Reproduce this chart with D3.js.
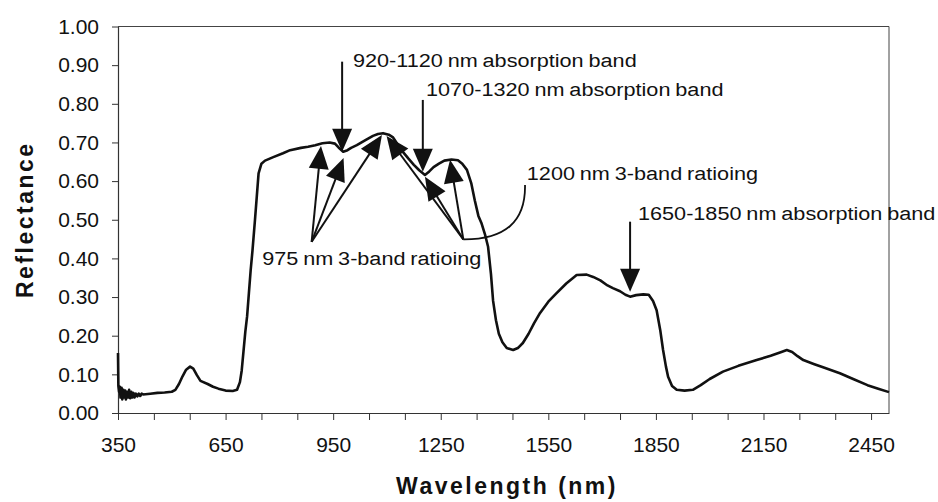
<!DOCTYPE html>
<html>
<head>
<meta charset="utf-8">
<script src="https://cdn.jsdelivr.net/npm/d3@7"></script>
<style>
  body { margin: 0; background: #fff; }
  svg { display: block; }
</style>
</head>
<body>
<script>
// spectrum (nm, reflectance)
const wavelength = [
  350, 351, 353, 355, 357, 360, 362, 365, 367, 370, 372, 375, 378, 381, 384, 387, 390, 393, 396, 400,
  404, 408, 412, 416, 420, 440, 460, 480, 500, 510, 520, 530, 540, 551, 560, 570, 580, 600, 615, 630,
  650, 670, 682, 690, 695, 700, 705, 710, 715, 720, 725, 732, 737, 742, 750, 760, 783, 810, 830, 860,
  880, 900, 920, 940, 955, 965, 978, 990, 1000, 1016, 1040, 1061, 1075, 1089, 1105, 1117, 1130, 1145, 1160, 1175,
  1190, 1206, 1218, 1230, 1245, 1260, 1280, 1298, 1310, 1323, 1335, 1345, 1355, 1364, 1374, 1382, 1390, 1396, 1404, 1412,
  1422, 1434, 1452, 1465, 1479, 1495, 1510, 1527, 1550, 1573, 1600, 1629, 1657, 1675, 1695, 1715, 1730, 1750, 1765, 1778,
  1795, 1815, 1830, 1842, 1852, 1862, 1870, 1878, 1884, 1895, 1908, 1930, 1953, 1975, 2000, 2037, 2080, 2131, 2170, 2200,
  2215, 2230, 2245, 2261, 2290, 2320, 2363, 2400, 2440, 2470, 2500
];
const reflectance = [
  0.155, 0.070, 0.055, 0.068, 0.040, 0.065, 0.035, 0.060, 0.040, 0.058, 0.035, 0.055, 0.040, 0.060, 0.038, 0.055, 0.040, 0.052, 0.040, 0.050,
  0.043, 0.050, 0.044, 0.050, 0.048, 0.050, 0.052, 0.053, 0.055, 0.060, 0.075, 0.095, 0.112, 0.120, 0.115, 0.098, 0.083, 0.075, 0.068, 0.063,
  0.058, 0.057, 0.060, 0.080, 0.110, 0.160, 0.210, 0.250, 0.310, 0.370, 0.420, 0.500, 0.560, 0.620, 0.645, 0.653, 0.662, 0.672, 0.680, 0.686,
  0.689, 0.693, 0.698, 0.700, 0.697, 0.687, 0.676, 0.680, 0.686, 0.693, 0.706, 0.717, 0.722, 0.724, 0.720, 0.713, 0.695, 0.675, 0.658, 0.642,
  0.628, 0.616, 0.625, 0.636, 0.645, 0.653, 0.656, 0.654, 0.645, 0.629, 0.595, 0.550, 0.510, 0.490, 0.460, 0.430, 0.360, 0.290, 0.240, 0.205,
  0.183, 0.168, 0.163, 0.168, 0.181, 0.205, 0.232, 0.259, 0.288, 0.310, 0.335, 0.357, 0.358, 0.352, 0.343, 0.330, 0.323, 0.315, 0.306, 0.301,
  0.305, 0.307, 0.306, 0.290, 0.266, 0.215, 0.163, 0.120, 0.094, 0.070, 0.060, 0.058, 0.060, 0.072, 0.088, 0.107, 0.122, 0.137, 0.148, 0.158,
  0.163, 0.158, 0.147, 0.137, 0.127, 0.117, 0.103, 0.088, 0.072, 0.063, 0.054
];
const xTickLabels = [350, 650, 950, 1250, 1550, 1850, 2150, 2450];
const yTickLabels = [0, 0.1, 0.2, 0.3, 0.4, 0.5, 0.6, 0.7, 0.8, 0.9, 1.0];

// annotations, in data units
const bandArrows = [
  { text: "920-1120 nm absorption band", at: 975, from: 0.909, to: 0.676, tx: 1005, ty: 0.896 },
  { text: "1070-1320 nm absorption band", at: 1200, from: 0.810, to: 0.624, tx: 1209, ty: 0.820 },
  { text: "1650-1850 nm absorption band", at: 1778, from: 0.495, to: 0.314, tx: 1800, ty: 0.499 }
];
const ratioFans = [
  { text: "975 nm 3-band ratioing", origin: [890, 0.443], tips: [[916, 0.691], [979, 0.660], [1086, 0.719]], tx: 752, ty: 0.383 },
  { text: "1200 nm 3-band ratioing", origin: [1313, 0.449], tips: [[1099, 0.717], [1206, 0.611], [1276, 0.655]], tx: 1490, ty: 0.603,
    hook: [[1488, 0.448], [1485, 0.590]] }
];

const width = 938, height = 502;
const x = d3.scaleLinear().domain([350, 2500]).range([118, 889]);
const y = d3.scaleLinear().domain([0, 1]).range([413, 26.5]);

const svg = d3.select("body").append("svg")
    .attr("width", width)
    .attr("height", height)
    .style("font-family", "'Liberation Sans', Arial, sans-serif");

// plot frame (top and right)
svg.append("path")
    .attr("d", `M${x(350)},${y(1)}H${x(2500)}V${y(0)}`)
    .attr("fill", "none")
    .attr("stroke", "#444")
    .attr("stroke-width", 1);

const xAxis = svg.append("g")
    .attr("transform", `translate(0,${y(0)})`)
    .call(d3.axisBottom(x)
        .tickValues(d3.range(350, 2451, 100))
        .tickSizeInner(7).tickSizeOuter(0)
        .tickFormat(d => xTickLabels.includes(d) ? d : ""));
xAxis.select(".domain").attr("stroke", "#333").attr("stroke-width", 1.2);
xAxis.selectAll(".tick line").attr("stroke", "#333");
xAxis.selectAll(".tick text")
    .attr("dy", 0).attr("y", 39)
    .style("font-size", "21px").attr("fill", "#111");

const yAxis = svg.append("g")
    .attr("transform", `translate(${x(350)},0)`)
    .call(d3.axisLeft(y)
        .tickValues(yTickLabels)
        .tickSizeInner(6).tickSizeOuter(0)
        .tickPadding(13)
        .tickFormat(d3.format(".2f")));
yAxis.select(".domain").attr("stroke", "#333").attr("stroke-width", 1.2);
yAxis.selectAll(".tick line").attr("stroke", "#333");
yAxis.selectAll(".tick text").style("font-size", "21px").attr("fill", "#111");

// axis titles
svg.append("text")
    .attr("x", 507).attr("y", 494)
    .attr("text-anchor", "middle")
    .style("font-size", "23px").style("font-weight", "bold").style("letter-spacing", "2.5px")
    .attr("fill", "#111")
    .text("Wavelength (nm)");

svg.append("text")
    .attr("transform", `translate(33,${(y(0) + y(1)) / 2}) rotate(-90)`)
    .attr("text-anchor", "middle")
    .style("font-size", "23px").style("font-weight", "bold").style("letter-spacing", "2.5px")
    .attr("fill", "#111")
    .text("Reflectance");

// spectrum
const line = d3.line()
    .x((d, i) => x(wavelength[i]))
    .y(d => y(d));

svg.append("path")
    .datum(reflectance)
    .attr("d", line)
    .attr("fill", "none")
    .attr("stroke", "#111")
    .attr("stroke-width", 2.6)
    .attr("stroke-linejoin", "round");

// annotations
const ann = svg.append("g").attr("fill", "#111").attr("stroke", "#111");

function arrow(g, x0, y0, x1, y1) {
    const len = Math.hypot(x1 - x0, y1 - y0);
    const ux = (x1 - x0) / len, uy = (y1 - y0) / len;
    const hl = 23, hw = 10;
    const bx = x1 - ux * hl, by = y1 - uy * hl;
    g.append("line")
        .attr("x1", x0).attr("y1", y0)
        .attr("x2", bx + ux * 2).attr("y2", by + uy * 2)
        .attr("stroke-width", 2);
    g.append("path")
        .attr("d", `M${x1},${y1}L${bx - uy * hw},${by + ux * hw}L${bx + uy * hw},${by - ux * hw}Z`)
        .attr("stroke", "none");
}

function label(g, tx, ty, text) {
    g.append("text")
        .attr("transform", `translate(${x(tx)},${y(ty)}) scale(1.14,1)`)
        .attr("stroke", "none")
        .style("font-size", "19px")
        .style("word-spacing", "-1px")
        .text(text);
}

for (const a of bandArrows) {
    arrow(ann, x(a.at), y(a.from), x(a.at), y(a.to));
    label(ann, a.tx, a.ty, a.text);
}

for (const f of ratioFans) {
    const ox = x(f.origin[0]), oy = y(f.origin[1]);
    f.tips.forEach(t => arrow(ann, ox, oy, x(t[0]), y(t[1])));
    if (f.hook) {
        ann.append("path")
            .attr("d", `M${ox},${oy}Q${x(f.hook[0][0])},${y(f.hook[0][1])} ${x(f.hook[1][0])},${y(f.hook[1][1])}`)
            .attr("fill", "none")
            .attr("stroke-width", 1.8);
    }
    label(ann, f.tx, f.ty, f.text);
}
</script>
</body>
</html>
